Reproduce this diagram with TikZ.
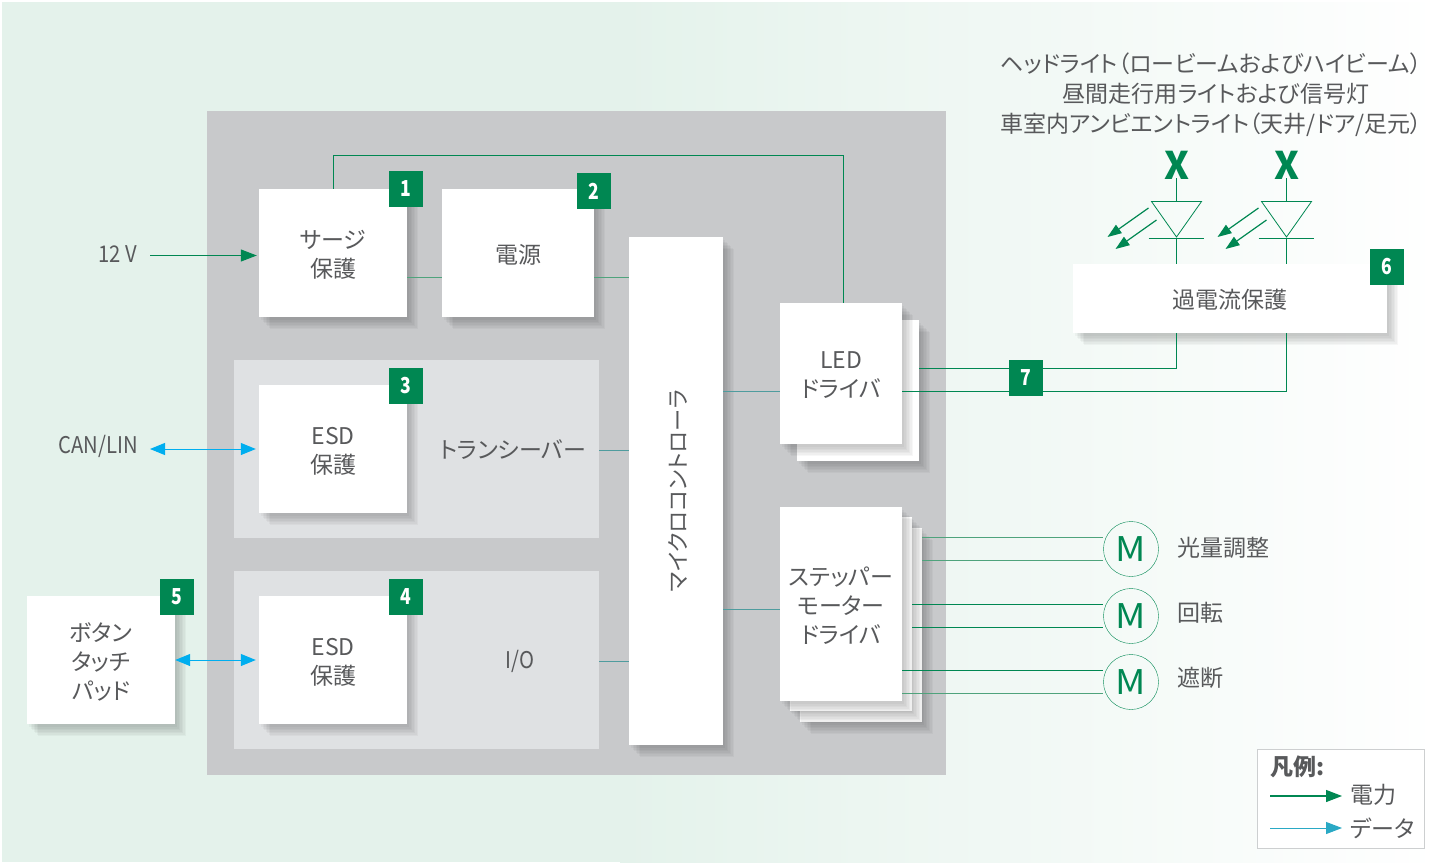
\documentclass[tikz,border=0pt]{standalone}
\usepackage{fontspec}
\setmainfont[RawFeature=+palt]{Noto Sans CJK JP}
\usepackage{graphicx}
\usetikzlibrary{arrows.meta}
\definecolor{panelgreen}{HTML}{E4F2EB}
\definecolor{maingray}{HTML}{C8C9CB}
\definecolor{subgray}{HTML}{DFE1E3}
\definecolor{powergreen}{HTML}{008752}
\definecolor{palegreen}{HTML}{4FA37C}
\definecolor{datablue}{HTML}{00AEEF}
\definecolor{datateal}{HTML}{2AA9C5}
\definecolor{linkteal}{HTML}{4F9C9E}
\definecolor{labelgray}{HTML}{58595B}
\definecolor{legendedge}{HTML}{CDCFD0}
\tikzset{
  shadowlayer/.style={preaction={fill=black, opacity=0.03, transform canvas={shift={(#1pt,-#1pt-1pt)}}}},
  softshadow/.style={shadowlayer=11, shadowlayer=9.5, shadowlayer=8, shadowlayer=6.5, shadowlayer=5, shadowlayer=3.5, shadowlayer=2},
  whitebox/.style={fill=white, softshadow, inner sep=0pt},
  badge/.style={fill=powergreen, text=white, inner sep=0pt, minimum width=34pt, minimum height=36pt, font=\fontsize{22}{22}\selectfont\bfseries},
  plainlabel/.style={text=labelgray, inner sep=0pt, align=center, font=\fontsize{23}{30}\selectfont},
  boxtext/.style={plainlabel, font=\fontsize{23}{29}\selectfont},
  motor/.style={circle, draw=powergreen, minimum size=55pt, inner sep=0pt, text=powergreen, font=\fontsize{34}{34}\selectfont},
  powerline/.style={draw=powergreen, line width=1.2pt},
  paleline/.style={draw=palegreen, line width=1.5pt},
  linkline/.style={draw=linkteal, line width=1pt},
  power/.style={powerline, -{Triangle[length=16pt,width=12pt]}},
  data/.style={draw=datablue, line width=1pt, {Triangle[length=15pt,width=12pt]}-{Triangle[length=15pt,width=12pt]}},
}
\newcommand{\badgenum}[1]{\scalebox{0.8}[1]{#1}}
\newcommand{\narrowtext}[1]{\scalebox{0.88}[1]{#1}}
\begin{document}
\begin{tikzpicture}[x=1pt, y=-1pt]
    \useasboundingbox (0,0) rectangle (1440,862);
    %background fades to white on the right
    \fill[panelgreen] (2,2) rectangle (620,862);
    \shade[left color=panelgreen, right color=white] (620,2) rectangle (1440,862);
    %grey panels
    \fill[maingray] (207,111) rectangle (946,775);
    \fill[subgray] (234,360) rectangle (599,538);
    \fill[subgray] (234,571) rectangle (599,749);
    %feedback line goes under the boxes
    \coordinate (topleft) at (333.5,155.5);
    \coordinate (topright) at (843.5,155.5);
    \draw[powerline] (333.5,189) -- (topleft) -- (topright) -- (843.5,303);
    \node (m1) [motor] at (1131,549) {\scalebox{1.1}[1]{M}};
    \node (m2) [motor] at (1131,616) {\scalebox{1.1}[1]{M}};
    \node (m3) [motor] at (1131,682) {\scalebox{1.1}[1]{M}};
    %the boxes
    \node (surge) [whitebox, minimum width=148pt, minimum height=128pt] at (333,253) {};
    \node (supply) [whitebox, minimum width=152pt, minimum height=128pt] at (518,253) {};
    \node (mcu) [whitebox, minimum width=94pt, minimum height=508pt] at (676,491) {};
    \node (esdcan) [whitebox, minimum width=148pt, minimum height=128pt] at (333,449) {};
    \node (esdio) [whitebox, minimum width=148pt, minimum height=128pt] at (333,660) {};
    \node (touch) [whitebox, minimum width=148pt, minimum height=128pt] at (101,660) {};
    \node (ledback) [whitebox, minimum width=122pt, minimum height=141pt] at (858,390.5) {};
    \node (led) [whitebox, minimum width=122pt, minimum height=141pt] at (841,373.5) {};
    \node (stepc) [whitebox, minimum width=122pt, minimum height=194pt] at (861,625) {};
    \node (stepb) [whitebox, minimum width=122pt, minimum height=194pt] at (851,614) {};
    \node (stepa) [whitebox, minimum width=122pt, minimum height=194pt] at (841,604) {};
    \node (ocp) [whitebox, minimum width=314pt, minimum height=69pt] at (1230,298.5) {};
    %box texts
    \node (surgetext) [boxtext] at (333,255) {サージ\\保護};
    \node (supplytext) [boxtext] at (518,255) {電源};
    \node (mcutext) [plainlabel, rotate=90, font=\fontsize{22.3}{30}\selectfont] at (678,491) {マイクロコントローラ};
    \node (esdcantext) [boxtext] at (333,451) {ESD\\保護};
    \node (esdiotext) [boxtext] at (333,662) {ESD\\保護};
    \node (touchtext) [boxtext] at (101,662) {ボタン\\タッチ\\パッド};
    \node (transceiver) [plainlabel] at (513,450) {トランシーバー};
    \node (io) [plainlabel] at (520,661) {\narrowtext{I/O}};
    \node (ledtext) [boxtext] at (841,375.5) {LED\\ドライバ};
    \node (steptext) [boxtext] at (841,606) {ステッパー\\モーター\\ドライバ};
    \node (ocptext) [boxtext] at (1230,300) {過電流保護};
    %short links between boxes
    \draw[paleline] (surge.east |- 0,277.5) to (supply.west |- 0,277.5);
    \draw[paleline] (supply.east |- 0,277.5) to (mcu.west |- 0,277.5);
    \draw[linkline] (599,450) to (mcu.west |- 0,450);
    \draw[linkline] (599,661) to (mcu.west |- 0,661);
    \draw[linkline] (mcu.east |- 0,391.5) to (led.west |- 0,391.5);
    \draw[linkline] (mcu.east |- 0,609.5) to (stepa.west |- 0,609.5);
    %motor lines
    \draw[paleline] (stepc.east |- 0,537.7) to (m1.west |- 0,537.7);
    \draw[paleline] (stepc.east |- 0,560.7) to (m1.west |- 0,560.7);
    \draw[powerline] (stepb.east |- 0,604.5) to (m2.west |- 0,604.5);
    \draw[powerline] (stepb.east |- 0,627.5) to (m2.west |- 0,627.5);
    \draw[powerline] (stepa.east |- 0,670.5) to (m3.west |- 0,670.5);
    \draw[paleline] (stepa.east |- 0,693.5) to (m3.west |- 0,693.5);
    \node (m1text) [plainlabel, anchor=west] at (1177,547.5) {光量調整};
    \node (m2text) [plainlabel, anchor=west] at (1177,613) {回転};
    \node (m3text) [plainlabel, anchor=west] at (1177,678) {遮断};
    %outside signals
    \node (volt) [plainlabel] at (118,254) {\narrowtext{12 V}};
    \node (canlin) [plainlabel] at (98,446) {\narrowtext{CAN/LIN}};
    \coordinate (voltend) at (150,255.5);
    \coordinate (canend) at (150,449);
    \draw[power] (voltend) to ([xshift=-2pt]surge.west |- voltend);
    \draw[data] (canend) to ([xshift=-3pt]esdcan.west |- canend);
    \draw[data] (touch.east |- 0,660) to ([xshift=-3pt]esdio.west |- 0,660);
    %the two LEDs
    \foreach \ledx/\ledname in {1176.5/leda,1286.5/ledb}{
      \node (\ledname x) [text=powergreen, inner sep=0pt, font=\fontsize{38}{38}\selectfont\bfseries] at (\ledx,165) {X};
      \coordinate (\ledname top) at (\ledx,201.5);
      \coordinate (\ledname tip) at (\ledx,238.5);
      \draw[powerline] (\ledx,178) to (\ledname top);
      \draw[powerline] (\ledname tip) to (\ledx,264);
      \draw[powerline, line width=0.8pt] (\ledx-25,201.5) -- (\ledx+25,201.5) -- (\ledx,237) -- cycle;
      \draw[powerline, line width=0.8pt] (\ledx-28,238.5) to (\ledx+27,238.5);
      \draw[powerline, -{Triangle[length=14pt,width=10pt]}] (\ledx-28,208) to (\ledx-69,237);
      \draw[powerline, -{Triangle[length=14pt,width=10pt]}] (\ledx-20,220) to (\ledx-61,249);
    }
    %two outputs of the LED driver
    \coordinate (bend1) at (1176.5,368.5);
    \coordinate (bend2) at (1286.5,391.5);
    \draw[powerline] (1176.5,333) -- (bend1) -- (ledback.east |- bend1);
    \draw[powerline] (1286.5,333) -- (bend2) -- (led.east |- bend2);
    %text over the LEDs
    \node (lamps) [plainlabel] at (1211,95) {ヘッドライト（ロービームおよびハイビーム）\\\hspace*{10pt}昼間走行用ライトおよび信号灯\\車室内アンビエントライト（天井/ドア/足元）};
    %numbered badges
    \node (b1) [badge] at (406,189) {\badgenum{1}};
    \node (b2) [badge] at (594,191) {\badgenum{2}};
    \node (b3) [badge] at (406,386) {\badgenum{3}};
    \node (b4) [badge] at (406,597) {\badgenum{4}};
    \node (b5) [badge] at (177,597) {\badgenum{5}};
    \node (b6) [badge] at (1387,267) {\badgenum{6}};
    \node (b7) [badge] at (1026,378) {\badgenum{7}};
    %legend
    \node (legend) [draw=legendedge, fill=white, line width=1pt, minimum width=167pt, minimum height=99pt, inner sep=0pt] at (1340.5,798.5) {};
    \node (legendtitle) [plainlabel, anchor=west, font=\fontsize{23}{23}\selectfont\bfseries] at (1270,767) {凡例:};
    \node (legendpower) [plainlabel, anchor=west] at (1350,795) {電力};
    \node (legenddata) [plainlabel, anchor=west] at (1350,828) {データ};
    \coordinate (powerstart) at (1270,796);
    \coordinate (datastart) at (1270,828);
    \draw[power] (powerstart) to ([xshift=-8pt]legendpower.west |- powerstart);
    \draw[draw=datateal, line width=1pt, -{Triangle[length=16pt,width=12pt]}] (datastart) to ([xshift=-8pt]legenddata.west |- datastart);
\end{tikzpicture}
\end{document}
